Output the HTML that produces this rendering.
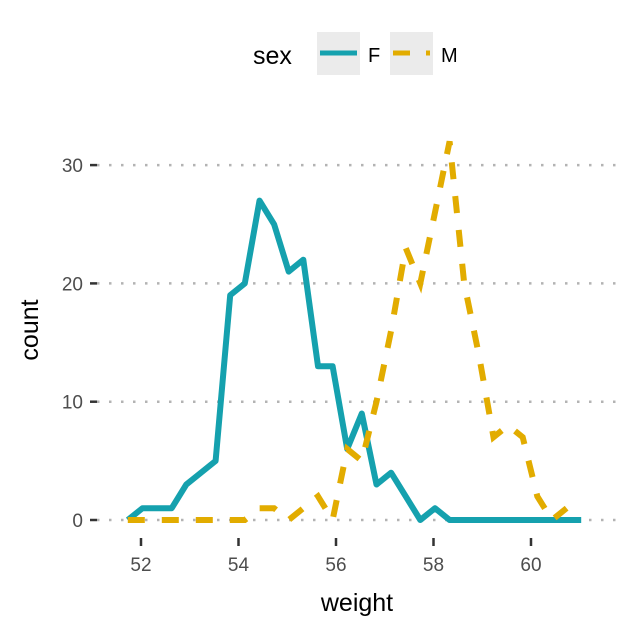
<!DOCTYPE html>
<html><head><meta charset="utf-8"><style>
body{margin:0;background:#fff}
svg{display:block;font-family:"Liberation Sans",Arial,sans-serif}
</style></head><body>
<svg id="chart" width="633" height="633" viewBox="0 0 633 633">
<g id="grid"></g>
<g id="axes"></g>
<g id="series"></g>
<text x="357" y="611" font-size="25" text-anchor="middle" fill="#000">weight</text>
<text transform="translate(38,330) rotate(-90)" font-size="25" text-anchor="middle" fill="#000">count</text>
<g>
<text x="253" y="64" font-size="25" fill="#000">sex</text>
<rect x="317" y="32" width="43" height="43" fill="#ebebeb"/>
<line x1="320" y1="53" x2="357" y2="53" stroke="#15A1AE" stroke-width="5"/>
<text x="368" y="62" font-size="20" fill="#000">F</text>
<rect x="390" y="32" width="43" height="43" fill="#ebebeb"/>
<line x1="393" y1="53" x2="430" y2="53" stroke="#E2AC00" stroke-width="5" stroke-dasharray="17 16"/>
<text x="441" y="62" font-size="20" fill="#000">M</text>
</g>
</svg>
<script>
const xs0 = 51.73, binW = 0.3;
const fCounts = [0,1,1,1,3,4,5,19,20,27,25,21,22,13,13,6,9,3,4,2,0,1,0,0,0,0,0,0,0,0,0,0];
const mCounts = [0,0,0,0,0,0,0,0,0,1,1,0,1,2,0,6,5,10,16,23,20,26,32,20,14,7,8,7,2,0,1];
const xTicks = [52,54,56,58,60];
const yTicks = [0,10,20,30];
const X = v => 141 + (v-52)*48.75;
const Y = v => 520 - v*11.83;
const NS="http://www.w3.org/2000/svg";
function mk(tag, attrs, parent){const e=document.createElementNS(NS,tag);for(const k in attrs)e.setAttribute(k,attrs[k]);parent.appendChild(e);return e;}
const grid=document.getElementById('grid'), axes=document.getElementById('axes'), series=document.getElementById('series');
yTicks.forEach(t=>{
  const g=mk('line',{x1:97,x2:622,y1:Y(t),y2:Y(t),stroke:'#b3b3b3','stroke-width':2.5,'stroke-dasharray':'2.5 9.5'},grid);
  
  
  const tk=mk('line',{x1:90,x2:97,y1:Y(t),y2:Y(t),stroke:'#333','stroke-width':2.5},axes);
  
  
  const tl=mk('text',{x:83,y:Y(t)+7,'font-size':19,'text-anchor':'end',fill:'#4d4d4d'},axes);
  
  
  tl.textContent=t;
});
xTicks.forEach(t=>{
  const tk=mk('line',{x1:X(t),x2:X(t),y1:538,y2:546,stroke:'#333','stroke-width':2.5},axes);
  
  
  const tl=mk('text',{x:X(t),y:571,'font-size':19,'text-anchor':'middle',fill:'#4d4d4d'},axes);
  
  
  tl.textContent=t;
});
function pts(arr){return arr.map((c,i)=>X(xs0+i*binW).toFixed(1)+','+Y(c).toFixed(1)).join(' ');}
const fl=mk('polyline',{points:pts(fCounts),fill:'none',stroke:'#15A1AE','stroke-width':6,'stroke-linejoin':'round'},series);


const ml=mk('polyline',{points:pts(mCounts),fill:'none',stroke:'#E2AC00','stroke-width':6,'stroke-dasharray':'17 17'},series);


</script>
</body></html>
